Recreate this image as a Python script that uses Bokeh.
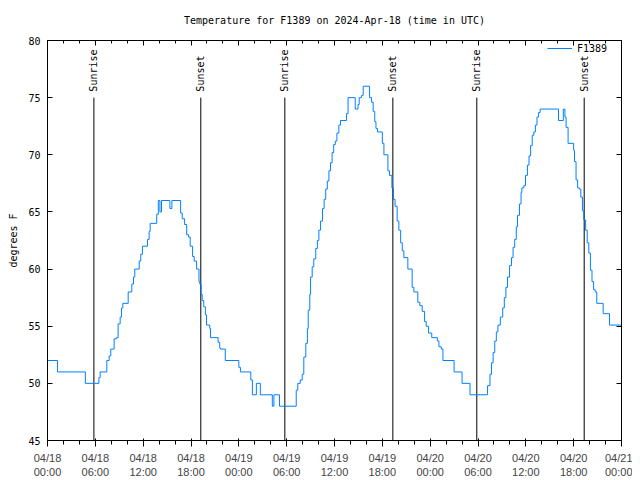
import math
from bokeh.plotting import figure
from bokeh.models import FixedTicker, LinearAxis, CustomJSTickFormatter
from bokeh.core.properties import value
from bokeh.embed import file_html
from bokeh.resources import INLINE

# Hours since 2024-04-18 00:00 UTC and temperature (degrees F)
hours = [0.0, 1.25, 4.75, 6.45, 6.6, 7.44, 7.73, 7.94, 8.36, 8.65, 8.86, 9.11, 9.28, 9.45,
         10.12, 10.58, 10.79, 10.95, 11.5, 11.7, 11.91, 12.54, 12.75, 12.88, 13.7, 13.9,
         14.1, 14.3, 15.35, 15.6, 16.7, 16.9, 17.2, 17.46, 17.7, 17.9, 18.2, 18.4, 18.7,
         19.0, 19.1, 19.27, 19.4, 19.6, 19.8, 19.95, 20.35, 20.45, 21.4, 21.6, 21.7, 22.3,
         24.0, 24.2, 25.5, 25.7, 26.2, 26.7, 28.2, 28.4, 29.1, 31.2, 31.4, 31.7, 31.95,
         32.15, 32.4, 32.6, 32.7, 32.9, 33.0, 33.2, 33.4, 33.65, 33.85, 34.04, 34.25, 34.5,
         34.7, 34.9, 35.1, 35.3, 35.5, 35.7, 35.9, 36.1, 36.3, 36.55, 36.75, 37.5, 37.7,
         38.6, 38.95, 39.1, 39.4, 39.6, 40.4, 40.65, 40.85, 41.05, 41.2, 41.4, 42.0, 42.2,
         42.7, 42.9, 43.2, 43.4, 43.6, 43.86, 44.07, 44.3, 44.5, 44.7, 45.2, 45.74, 45.95,
         46.45, 46.7, 47.0, 47.3, 47.5, 47.8, 48.2, 48.9, 49.1, 49.4, 49.6, 51.0, 52.0,
         53.0, 55.2, 55.5, 55.7, 55.9, 56.1, 56.3, 56.5, 56.8, 57.1, 57.3, 57.5, 57.7,
         57.96, 58.2, 58.4, 58.6, 58.8, 58.96, 59.2, 59.4, 59.5, 59.75, 59.96, 60.2, 60.4,
         60.6, 60.8, 61.0, 61.2, 61.4, 61.6, 61.8, 64.1, 64.7, 64.9, 65.05, 65.3, 66.0,
         66.1, 66.3, 66.5, 66.7, 66.9, 67.1, 67.27, 67.5, 67.7, 67.9, 68.1, 68.3, 68.5,
         68.7, 68.9, 69.7, 70.5, 72.0]
temps = [52, 51, 50, 50.5, 51, 52, 52.4, 53, 53.9, 54, 55.2, 55.8, 56.6, 57,
         58, 58.7, 59.3, 60, 60.7, 61.3, 62, 62.6, 63.3, 64, 64.8, 66,
         65, 66, 65.3, 66, 64.9, 64.4, 63.9, 63, 62.8, 62, 61.1, 60.7, 60,
         58.9, 58.7, 57.8, 57.25, 56.7, 56.0, 55.1, 54.8, 54, 53.6, 53.1, 53, 52,
         51.4, 51, 50.3, 49, 50, 49, 48, 49, 48, 49.4, 50, 50.3, 50.8,
         52.3, 53.5, 54.8, 56.4, 57.8, 59.3, 60.2, 60.9, 61.8, 62.5, 63.4, 64.2, 65.3,
         66.1, 67, 67.7, 68.6, 69.3, 70.2, 70.9, 71.2, 71.9, 72.6, 73, 73.6, 75,
         74, 74.4, 75, 75.2, 76, 75, 74.6, 73.8, 72.9, 72.3, 72, 71, 70,
         68.6, 68.2, 67.1, 66.1, 65.5, 64.2, 63.4, 62.3, 61.6, 61, 60, 58.4, 58,
         57.1, 56.8, 56.3, 55.4, 55, 54.4, 54, 53.7, 53.2, 53, 52, 51, 50,
         49, 49.8, 50.8, 51.8, 52.7, 53.7, 54.5, 55.1, 55.8, 56.6, 57.5, 58.4, 59.3,
         60.3, 61.0, 61.9, 62.6, 63.7, 64.7, 65.7, 66.7, 67.1, 67.3, 68.2, 69.1, 69.9,
         70.8, 71.7, 72, 72.6, 73.3, 73.7, 74, 73, 74, 73.3, 72.4, 71, 70.4,
         69.4, 67.8, 67.1, 67, 66.3, 65.1, 64.3, 63.4, 62.3, 61.4, 59.9, 58.9, 58.2,
         58, 57, 56.1, 55.1, 55.1]

sun_hours = [5.82, 19.23, 29.77, 43.32, 53.85, 67.32]
sun_labels = ["Sunrise", "Sunset", "Sunrise", "Sunset", "Sunrise", "Sunset"]

x_tick_hours = [0, 6, 12, 18, 24, 30, 36, 42, 48, 54, 60, 66, 72]
x_tick_dates = ["04/18", "04/18", "04/18", "04/18", "04/19", "04/19", "04/19",
                "04/19", "04/20", "04/20", "04/20", "04/20", "04/21"]
x_tick_times = ["00:00", "06:00", "12:00", "18:00", "00:00", "06:00", "12:00",
                "18:00", "00:00", "06:00", "12:00", "18:00", "00:00"]
x_minor_hours = list(range(0, 73, 2))
y_ticks = [45, 50, 55, 60, 65, 70, 75, 80]

TITLE = "Temperature for F1389 on 2024-Apr-18 (time in UTC)"
FONT = "DejaVu Sans Mono"
FS = "10px"
LINE_COLOR = "#0080ff"

p = figure(frame_width=574, frame_height=400, x_range=(0, 72), y_range=(45, 80),
           output_backend="svg", toolbar_location=None,
           min_border_left=47, min_border_top=40, min_border_right=11, min_border_bottom=32,
           title=TITLE)
p.title.align = "center"
p.title.vertical_align = "top"
p.title.text_font = FONT
p.title.text_font_size = FS
p.title.text_font_style = "normal"
p.title.text_color = "black"
p.grid.visible = False
p.outline_line_color = "black"
p.outline_line_width = 1
p.background_fill_color = "white"
p.border_fill_color = "white"

xt = FixedTicker(ticks=x_tick_hours, minor_ticks=x_minor_hours)
yt = FixedTicker(ticks=y_ticks, minor_ticks=[])

p.xaxis.ticker = xt
p.xaxis.major_label_overrides = {h: d + "\n" + t for h, d, t in zip(x_tick_hours, x_tick_dates, x_tick_times)}
p.yaxis.ticker = yt
p.yaxis.axis_label = "degrees F"

empty = CustomJSTickFormatter(code="return ''")
top_ax = LinearAxis(ticker=xt, formatter=empty)
right_ax = LinearAxis(ticker=yt, formatter=empty)
p.add_layout(top_ax, "above")
p.add_layout(right_ax, "right")

# invisible spacer between the top ticks and the title
spacer = LinearAxis(ticker=FixedTicker(ticks=[36], minor_ticks=[]), formatter=empty,
                    axis_line_alpha=0, major_tick_line_alpha=0, minor_tick_line_alpha=0,
                    major_tick_in=0, major_tick_out=8, minor_tick_in=0, minor_tick_out=0,
                    major_label_standoff=0)
p.add_layout(spacer, "above")

for ax in [p.xaxis[0], p.yaxis[0], top_ax, right_ax]:
    ax.major_tick_in = 5
    ax.major_tick_out = 0
    ax.minor_tick_in = 3
    ax.minor_tick_out = 0
    ax.axis_line_color = "black"
    ax.major_tick_line_color = "black"
    ax.minor_tick_line_color = "black"
    ax.major_label_text_font = FONT
    ax.major_label_text_font_size = FS
    ax.major_label_text_color = "black"
    ax.major_label_standoff = 7
    ax.axis_label_text_font = FONT
    ax.axis_label_text_font_size = FS
    ax.axis_label_text_font_style = "normal"
    ax.axis_label_text_color = "black"
    ax.axis_label_standoff = 6
p.xaxis[0].major_label_standoff = 3
top_ax.major_label_standoff = 0
right_ax.major_label_standoff = 0

p.segment(x0=sun_hours, y0=[45] * len(sun_hours), x1=sun_hours, y1=[75] * len(sun_hours),
          line_color="black", line_width=1)
p.text(x=sun_hours, y=[75] * len(sun_hours), text=sun_labels, angle=math.pi / 2,
       text_align="left", text_baseline="middle", y_offset=-6,
       text_font=value(FONT), text_font_size=FS, text_color="black")

p.step(hours, temps, mode="after", line_color=LINE_COLOR, line_width=1, legend_label="F1389")
p.legend.location = (500, 386)
p.legend.background_fill_alpha = 0
p.legend.border_line_alpha = 0
p.legend.label_text_font = FONT
p.legend.label_text_font_size = FS
p.legend.label_text_color = "black"
p.legend.glyph_width = 25
p.legend.glyph_height = 12
p.legend.label_height = 12
p.legend.margin = 0
p.legend.padding = 0

open("out.html", "w").write(file_html(p, INLINE))
